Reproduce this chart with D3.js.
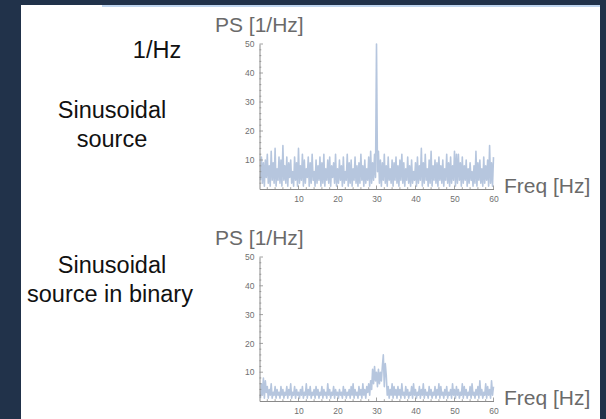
<!DOCTYPE html>
<html>
<head>
<meta charset="utf-8">
<script src="https://cdn.jsdelivr.net/npm/d3@7"></script>
<style>
  html, body { margin: 0; padding: 0; background: #21324a; }
  svg { display: block; }
</style>
</head>
<body>
<svg id="chart" width="606" height="419"></svg>
<script>
// Power spectra sampled every 0.25 Hz (0.25 ... 60 Hz)
const freqStep = 0.25;

// Sinusoidal source: flat noise floor with a single line at 30 Hz
const psSinusoidal = [
  3,11,2,9,1,10,4,12,2,8,1,13,3,9,2,14,1,7,3,11,
  2,10,1,15,3,8,2,11,1,9,4,10,2,6,1,11,3,9,1,14,
  2,8,3,12,1,10,2,7,4,11,1,9,2,12,3,6,1,10,2,8,
  3,11,1,9,2,12,1,7,3,10,2,11,1,8,4,9,2,12,1,7,
  2,10,3,8,1,11,2,6,3,12,1,9,2,10,1,7,3,11,2,8,
  1,9,2,12,3,8,1,10,2,7,3,11,1,13,2,9,3,12,4,50,
  6,13,2,10,1,9,3,12,2,8,1,11,3,7,2,10,1,9,3,11,
  2,8,1,10,3,12,2,9,1,7,3,11,2,8,1,10,2,6,3,9,
  1,11,2,8,3,14,1,9,2,12,3,7,1,10,2,13,1,8,3,10,
  2,9,1,11,3,8,2,10,1,7,3,12,2,9,1,11,2,8,3,13,
  1,12,2,12,3,9,1,11,2,8,3,10,1,7,2,9,3,6,1,8,
  2,13,1,9,3,10,2,7,1,11,2,8,3,10,1,15,2,9,1,11
];

// Sinusoidal source in binary: lower floor, broadened bump around 30 Hz
const psBinary = [
  1,6,2,8,1,7,3,5,1,4,2,6,1,3,2,5,1,4,2,3,
  1,5,2,4,1,3,2,5,1,4,2,6,1,3,2,5,1,4,2,3,
  1,4,2,5,1,3,2,6,1,4,2,5,1,3,2,4,1,5,2,4,
  1,3,2,5,1,4,2,3,1,6,2,4,1,3,2,5,1,4,2,3,
  1,4,2,3,1,5,2,4,1,3,2,4,1,5,2,6,1,4,2,3,
  1,5,2,4,1,6,2,4,1,5,3,6,2,7,4,11,6,12,7,10,
  5,11,6,10,7,12,16,5,13,9,2,5,1,4,2,6,1,5,2,4,
  1,5,2,4,1,6,2,3,1,5,2,4,1,3,2,5,1,6,2,4,
  1,3,2,5,1,4,2,6,1,4,2,3,1,5,2,4,1,3,2,5,
  1,4,2,6,1,5,2,3,1,4,2,5,1,3,2,4,1,6,2,4,
  1,5,2,4,1,3,2,6,1,5,2,4,1,3,2,5,1,6,2,3,
  1,4,2,5,1,7,2,4,1,3,2,6,1,5,2,4,1,7,2,5
];

const xTicks = [10, 20, 30, 40, 50, 60];
const yTicks = [10, 20, 30, 40, 50];
const yLabel = "PS [1/Hz]";
const xLabel = "Freq [Hz]";

const svg = d3.select("#chart");
const sans = "'Liberation Sans', Arial, sans-serif";

// slide background
svg.append("rect").attr("x", 21).attr("y", 5).attr("width", 579).attr("height", 414).attr("fill", "#ffffff");
svg.append("rect").attr("x", 102).attr("y", 5).attr("width", 498).attr("height", 2).attr("fill", "#bfd5ef");

// side captions
const caption = svg.append("g")
  .attr("font-family", sans)
  .attr("font-size", 23.5)
  .attr("fill", "#111")
  .attr("text-anchor", "middle");
caption.append("text").attr("x", 157).attr("y", 58).text("1/Hz");
caption.append("text").attr("x", 112).attr("y", 118).text("Sinusoidal");
caption.append("text").attr("x", 112).attr("y", 147).text("source");
caption.append("text").attr("x", 112).attr("y", 273).text("Sinusoidal");
caption.append("text").attr("x", 110).attr("y", 302).text("source in binary");

function drawPanel(values, yBottom, yTop) {
  const x = d3.scaleLinear().domain([0, 60]).range([259.5, 493.5]);
  const y = d3.scaleLinear().domain([0, 50]).range([yBottom, yTop]);
  const g = svg.append("g");

  // spectrum trace
  const line = d3.line()
    .x((d, i) => x((i + 1) * freqStep))
    .y(d => y(d));
  g.append("path")
    .datum(values)
    .attr("fill", "none")
    .attr("stroke", "#5e81b5")
    .attr("stroke-opacity", 0.45)
    .attr("stroke-width", 1.6)
    .attr("stroke-linejoin", "round")
    .attr("d", line);

  // frame axes, ticks pointing inward
  const axisColor = "#8a8a8a";
  const xAxis = d3.axisBottom(x).tickValues(xTicks).tickSize(0).tickPadding(0).tickFormat(d3.format("d"));
  const gx = g.append("g").attr("transform", `translate(0,${yBottom})`).call(xAxis);
  gx.select(".domain").attr("stroke", axisColor);
  gx.selectAll("text").attr("dy", null).attr("y", 12.5)
    .attr("font-family", sans).attr("font-size", 8.5).attr("fill", "#707070");

  const yAxis = d3.axisLeft(y).tickValues(yTicks).tickSize(0).tickPadding(5).tickFormat(d3.format("d"));
  const gy = g.append("g").attr("transform", `translate(${x(0)},0)`).call(yAxis);
  gy.select(".domain").attr("stroke", axisColor);
  gy.selectAll("text")
    .attr("font-family", sans).attr("font-size", 8.5).attr("fill", "#707070");

  // major and minor tick marks
  const xMinor = d3.range(2, 60.1, 2);
  g.append("g").selectAll("line").data(xMinor).join("line")
    .attr("x1", d => x(d)).attr("x2", d => x(d))
    .attr("y1", yBottom).attr("y2", d => yBottom - (d % 10 === 0 ? 3.5 : 1.8))
    .attr("stroke", axisColor).attr("stroke-width", 0.8);
  const yMinor = d3.range(2, 50.1, 2);
  g.append("g").selectAll("line").data(yMinor).join("line")
    .attr("x1", x(0)).attr("x2", d => x(0) + (d % 10 === 0 ? 3.5 : 1.8))
    .attr("y1", d => y(d)).attr("y2", d => y(d))
    .attr("stroke", axisColor).attr("stroke-width", 0.8);

  // axis titles
  g.append("text").attr("x", 215).attr("y", yTop - 12)
    .attr("font-family", sans).attr("font-size", 21)
    .attr("fill", "#6a6a6a").text(yLabel);
  g.append("text").attr("x", 504).attr("y", yBottom + 4)
    .attr("font-family", sans).attr("font-size", 21)
    .attr("fill", "#6a6a6a").text(xLabel);
}

drawPanel(psSinusoidal, 189, 44);
drawPanel(psBinary, 401, 257);
</script>
</body>
</html>
